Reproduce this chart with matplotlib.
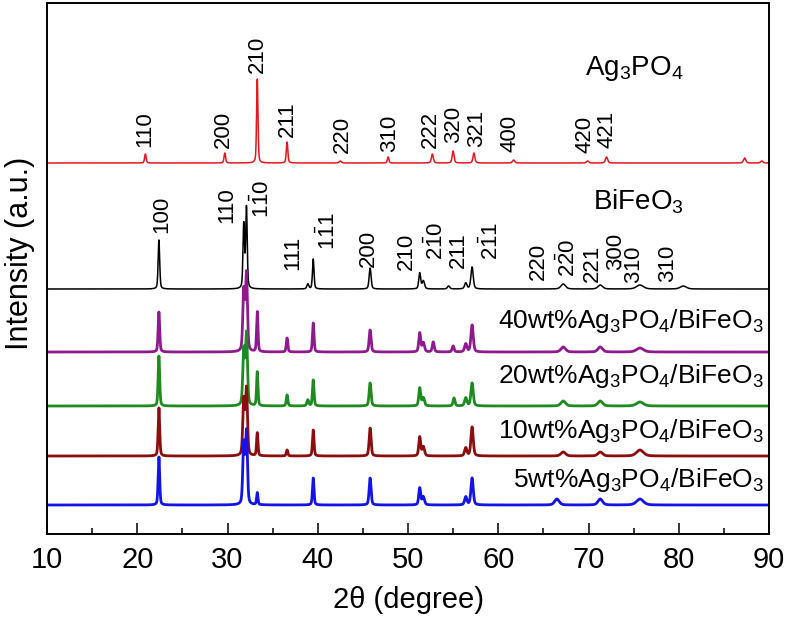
import numpy as np
import matplotlib
matplotlib.use('Agg')
import matplotlib.pyplot as plt

plt.rcParams['font.family'] = ['Liberation Sans', 'DejaVu Sans']
plt.rcParams['mathtext.fontset'] = 'custom'
plt.rcParams['mathtext.rm'] = 'Liberation Sans'
plt.rcParams['mathtext.it'] = 'Liberation Sans:italic'
plt.rcParams['mathtext.bf'] = 'Liberation Sans:bold'
plt.rcParams['mathtext.default'] = 'regular'

# peaks: (2theta, height, fwhm), height in a.u.
ag3po4_peaks = [(20.9, 9, 0.2), (29.7, 10, 0.2), (33.3, 84, 0.18), (36.6, 21, 0.2),
                (42.5, 2, 0.3), (47.8, 6, 0.2), (52.7, 9, 0.25), (55.0, 12, 0.25),
                (57.3, 10, 0.25), (61.7, 3, 0.3), (69.9, 2, 0.3), (72.0, 6, 0.3),
                (87.3, 5, 0.3), (89.2, 2, 0.3)]
bfo_peaks = [(22.4, 49, 0.2), (31.8, 64, 0.2), (32.1, 81, 0.2), (38.9, 5, 0.25),
             (39.5, 30, 0.2), (45.8, 21, 0.25), (51.3, 16, 0.25), (51.7, 8, 0.3),
             (54.5, 3, 0.3), (56.4, 6, 0.3), (57.1, 22, 0.3), (67.2, 5, 0.6),
             (71.3, 4, 0.6), (75.7, 4, 0.9), (80.5, 3, 0.8)]
wt40_peaks = [(22.4, 40, 0.2), (31.8, 60, 0.25), (32.1, 77, 0.25), (33.3, 40, 0.18),
              (36.6, 14, 0.2), (39.5, 29, 0.2), (45.8, 22, 0.25), (51.3, 19, 0.25),
              (51.7, 9, 0.3), (52.8, 10, 0.25), (55.0, 6, 0.25), (56.4, 8, 0.3),
              (57.1, 27, 0.3), (67.2, 5, 0.6), (71.3, 5, 0.6), (75.7, 4, 0.9)]
wt20_peaks = [(22.4, 50, 0.2), (31.8, 55, 0.25), (32.1, 71, 0.25), (33.3, 34, 0.18),
              (36.6, 11, 0.2), (38.9, 6, 0.25), (39.5, 26, 0.2), (45.8, 23, 0.25),
              (51.3, 18, 0.25), (51.7, 8, 0.3), (55.1, 8, 0.25), (56.4, 8, 0.3),
              (57.1, 23, 0.3), (67.2, 5, 0.6), (71.3, 5, 0.6), (75.7, 4, 0.9)]
wt10_peaks = [(22.4, 48, 0.2), (31.8, 55, 0.25), (32.1, 66, 0.25), (33.3, 23, 0.18),
              (36.6, 6, 0.2), (39.5, 26, 0.2), (45.8, 28, 0.25), (51.3, 19, 0.25),
              (51.7, 9, 0.3), (56.4, 8, 0.3), (57.1, 29, 0.3), (67.2, 4, 0.6),
              (71.3, 4, 0.6), (75.7, 6, 0.9)]
wt5_peaks = [(22.4, 48, 0.2), (31.8, 60, 0.25), (32.1, 72, 0.25), (33.3, 12, 0.18),
             (39.5, 27, 0.2), (45.8, 27, 0.25), (51.3, 17, 0.25), (51.7, 8, 0.3),
             (56.4, 8, 0.3), (57.1, 27, 0.3), (66.5, 6, 0.6), (71.3, 6, 0.6),
             (75.7, 6, 0.9)]

series_peaks = [ag3po4_peaks, bfo_peaks, wt40_peaks, wt20_peaks, wt10_peaks, wt5_peaks]
offsets = [371, 245, 182, 128, 78, 29]
colors = ['#e8161e', 'black', '#8e1a8e', '#1f8a1f', '#8c0d0d', '#1414e6']
widths = [1.1, 1.1, 2.0, 2.0, 2.0, 2.0]

# hkl labels: text, 2theta, bottom of label
ag_labels = [('110', 20.86, 387), ('200', 29.5, 386), ('210', 33.27, 461),
             ('211', 36.59, 397), ('220', 42.69, 381), ('310', 48.0, 382),
             ('222', 52.44, 386), ('320', 55.1, 391), ('321', 57.65, 387),
             ('400', 61.3, 382), ('420', 69.6, 381), ('421', 72.05, 386)]
bfo_labels = [('100', 22.74, 301), ('110', 29.94, 311), (r'1$\bar{1}$0', 33.82, 316),
              ('111', 37.26, 264), (r'1$\bar{1}$1', 41.14, 284), ('200', 45.57, 267),
              ('210', 49.78, 264), (r'2$\bar{1}$0', 53.1, 274), ('211', 55.6, 266),
              (r'2$\bar{1}$1', 59.2, 274), ('220', 64.4, 254), (r'2$\bar{2}$0', 67.73, 257),
              ('221', 70.4, 252), ('300', 73.0, 264), (r'3$\bar{1}$0', 75.1, 250),
              ('310', 78.81, 252)]

names = ['Ag$_3$PO$_4$', 'BiFeO$_3$',
         '40wt%Ag$_3$PO$_4$/BiFeO$_3$', '20wt%Ag$_3$PO$_4$/BiFeO$_3$',
         '10wt%Ag$_3$PO$_4$/BiFeO$_3$', '5wt%Ag$_3$PO$_4$/BiFeO$_3$']


def pattern(x, peaks):
    y = np.zeros_like(x)
    for c, h, w in peaks:
        g = np.exp(-4 * np.log(2) * ((x - c) / w) ** 2)
        l = 1 / (1 + ((x - c) / (w / 2)) ** 2)
        y += h * (0.6 * g + 0.4 * l)
    return y


fig = plt.figure(figsize=(7.87, 6.18), dpi=100)
ax = fig.add_axes([47 / 787, 84 / 618, 722 / 787, 531 / 618])

two_theta = np.linspace(10, 90, 8000)
for peaks, off, col, lw in zip(series_peaks, offsets, colors, widths):
    ax.plot(two_theta, off + pattern(two_theta, peaks), color=col, lw=lw)

for txt, xpos, ypos in ag_labels + bfo_labels:
    ax.text(xpos, ypos, txt, rotation=90, ha='center', va='bottom', fontsize=16)

ax.text(69.6, 459, names[0], fontsize=20, ha='left', va='baseline')
ax.text(70.5, 324, names[1], fontsize=20, ha='left', va='baseline')
for name, ypos in zip(names[2:], [206, 151, 96, 47]):
    ax.text(89.45, ypos, name, fontsize=19, ha='right', va='baseline')

ax.set_xlim(10, 90)
ax.set_ylim(0, 531)
ax.set_xticks(np.arange(10, 91, 10))
ax.set_xticks(np.arange(15, 90, 10), minor=True)
ax.set_yticks([])
ax.tick_params(axis='x', which='major', direction='in', length=8, width=1.1,
               labelsize=21, pad=9)
ax.tick_params(axis='x', which='minor', direction='in', length=4, width=1.1)
for s in ax.spines.values():
    s.set_linewidth(1.4)

ax.set_xlabel('2θ (degree)', fontsize=21, labelpad=8)
fig.text(20 / 787, 1 - 253 / 618, 'Intensity (a.u.)', rotation=90,
         ha='center', va='center', fontsize=22)

plt.savefig('out.png', dpi=100)
